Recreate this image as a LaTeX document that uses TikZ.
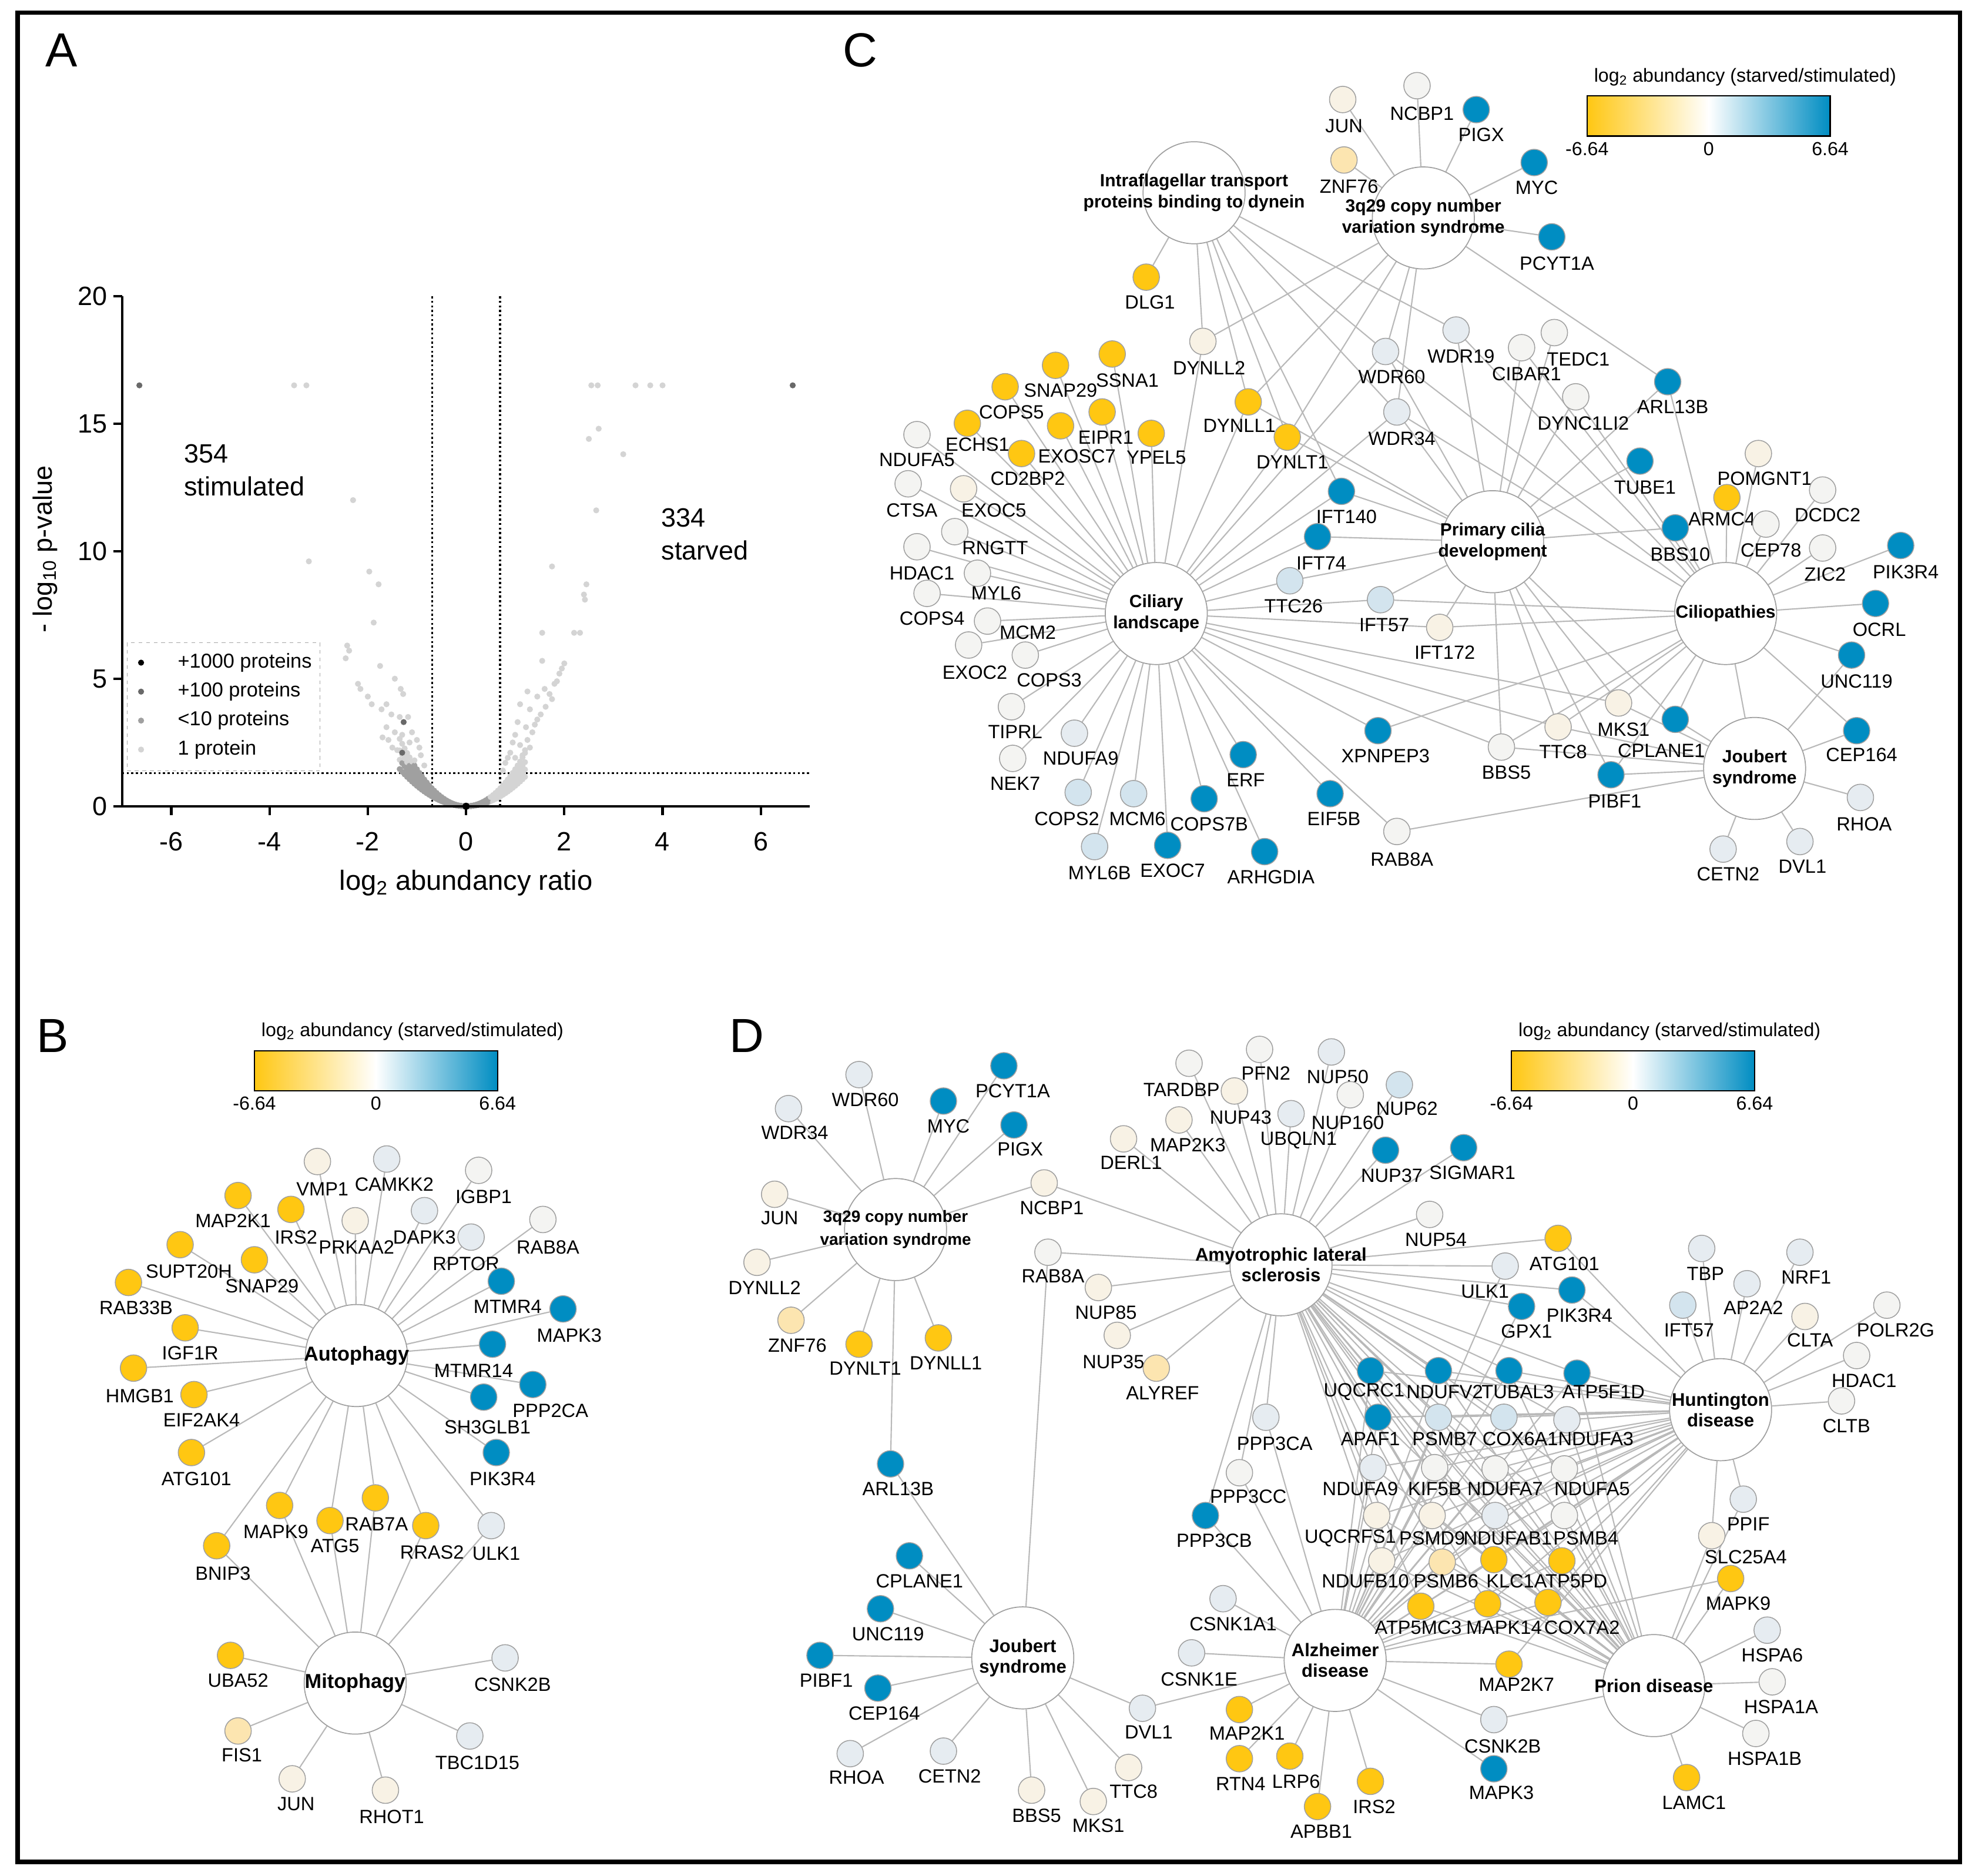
\documentclass[tikz,border=0pt]{standalone}
\usepackage{fontspec}
\setmainfont{Liberation Sans}
\usepackage{tikz}
\usetikzlibrary{calc}

\definecolor{cgold}{RGB}{255,199,18}
\definecolor{cblue}{RGB}{0,141,194}
\definecolor{cpale}{RGB}{252,229,176}
\definecolor{ccream}{RGB}{248,242,229}
\definecolor{cwhite}{RGB}{244,244,242}
\definecolor{cgrey}{RGB}{230,236,241}
\definecolor{clblue}{RGB}{211,228,238}
\definecolor{cedge}{RGB}{185,185,185}
\definecolor{cout}{RGB}{160,160,160}
\definecolor{ptlight}{RGB}{212,212,212}
\definecolor{ptmid}{RGB}{160,160,160}
\definecolor{ptdark}{RGB}{105,105,105}

\pgfdeclarelayer{bg}
\pgfsetlayers{bg,main}

\tikzset{
  gene/.style={circle, draw=cout, line width=0.7pt, minimum size=21pt, inner sep=0pt},
  glab/.style={font=\fontsize{15.2}{17}\selectfont, inner sep=0pt},
  hub/.style={circle, draw=cout, line width=0.8pt, fill=white, minimum size=81pt, inner sep=0pt},
  hubb/.style={font=\fontsize{16}{18}\selectfont\bfseries, align=center, inner sep=0pt},
  hubc/.style={font=\fontsize{14}{17}\selectfont\bfseries, align=center, inner sep=0pt},
  hubd/.style={font=\fontsize{14.5}{16.5}\selectfont\bfseries, align=center, inner sep=0pt},
  hubq/.style={font=\fontsize{13}{18}\selectfont\bfseries, align=center, inner sep=0pt},
  edge/.style={draw=cedge, line width=1pt},
  letter/.style={font=\fontsize{38}{40}\selectfont, inner sep=0pt},
  tick/.style={font=\fontsize{21}{24}\selectfont, inner sep=0pt},
  cbtitle/.style={font=\fontsize{15}{17}\selectfont, inner sep=0pt},
  cbtick/.style={font=\fontsize{15}{17}\selectfont, inner sep=0pt},
  axis/.style={line width=2pt, black},
  thresh/.style={dotted, line width=1.6pt},
}

% gene node: name, x, y, fill, label x, label y, text
\newcommand{\gnode}[7]{%
  \node[gene, fill=#4] (#1) at (#2,#3) {};
  \node[glab] (#1-t) at (#5,#6) {#7};}
% hub node: text style, name, x, y, text
\newcommand{\hubnode}[5]{%
  \node[hub] (#2) at (#3,#4) {};
  \node[#1] (#2-t) at (#3,#4) {#5};}
% colour bar: prefix, left x, top y
\newcommand{\colbar}[3]{%
  \shade[left color=cgold, right color=white] (#2,#3) rectangle ++(96.5,32);
  \shade[left color=white, right color=cblue] (#2+96.5,#3) rectangle ++(96.5,32);
  \draw[line width=1.1pt] (#2,#3) rectangle ++(193,32);
  \node[cbtitle] (#1-title) at (#2+125.5,#3-15) {log\textsubscript{2} abundancy (starved/stimulated)};
  \node[cbtick] (#1-lo) at (#2,#3+42) {-6.64};
  \node[cbtick] (#1-mid) at (#2+96.5,#3+42) {0};
  \node[cbtick] (#1-hi) at (#2+193,#3+42) {6.64};}

\begin{document}
\begin{tikzpicture}[x=1pt, y=-1pt]
\useasboundingbox (0,0) rectangle (1568,1489);
\draw[line width=3.5pt] (14,10) rectangle (1556,1478);

% letters
\node[letter] (la) at (49,40) {A};
\node[letter] (lb) at (42,822) {B};
\node[letter] (lc) at (683,40) {C};
\node[letter] (ld) at (593,822) {D};

% ---------------- A: volcano plot
\begin{scope}[shift={(370,640)}, x=39pt, y=20.25pt]
% thresholds
\draw[thresh] (-0.69,0) -- (-0.69,20);
\draw[thresh] (0.69,0) -- (0.69,20);
\draw[thresh] (-7,1.3) -- (7,1.3);
% cloud
\foreach \a in {0.8,1.0,1.2,1.45}{
  \foreach \x in {-1.35,-1.3,...,1.22}{
    \pgfmathsetmacro\yy{\a*\x*\x}
    \pgfmathtruncatemacro\low{and(\x<0.5,\yy<1.7) ? 1 : 0}
    \ifnum\low=1 \fill[ptmid] (\x,\yy) circle (2.4pt);
    \else \fill[ptlight] (\x,\yy) circle (2.4pt); \fi
  }
}
\foreach \x/\y in {-3.5/16.5,-3.25/16.5,2.55/16.5,2.68/16.5,3.45/16.5,3.75/16.5,4.0/16.5,
  -2.3/12,-3.2/9.6,-1.97/9.2,-1.78/8.7,-1.88/7.2,-2.42/6.3,-2.38/6.1,-2.45/5.8,-1.75/5.5,
  -2.2/4.8,-2.15/4.6,-1.45/5.0,-1.33/4.6,-1.28/4.4,-2.0/4.3,-1.92/4.0,-1.62/4.0,-1.72/3.8,
  -1.52/3.6,-1.35/3.5,-1.18/3.5,-1.62/3.1,-1.45/2.9,-1.3/2.8,-1.1/2.9,-1.0/2.6,-1.58/2.6,
  -1.5/2.3,-1.4/2.2,-1.2/2.0,-0.92/2.0,-1.05/1.8,-0.85/1.6,-1.7/2.7,-1.15/2.5,-0.95/2.3,
  2.5/14.4,2.7/14.8,3.2/13.8,2.65/11.6,1.75/9.4,2.45/8.7,2.4/8.3,2.42/8.1,2.2/6.8,2.32/6.8,
  1.55/6.8,1.55/5.7,2.0/5.6,1.95/5.4,1.9/5.2,1.8/4.8,1.85/4.9,1.6/4.6,1.7/4.4,1.75/4.2,
  1.25/4.5,1.45/4.3,1.1/4.0,1.3/3.8,1.52/3.6,1.4/3.2,1.22/3.1,1.0/2.8,1.35/2.9,1.25/2.6,
  1.1/2.4,0.9/2.1,1.2/2.2,1.0/1.9,0.8/1.7,0.75/1.4,1.62/3.9,1.45/3.4,1.05/3.3,0.95/2.5,
  1.15/2.0,1.3/2.3,0.85/1.9}
  \fill[ptlight] (\x,\y) circle (2.4pt);
\foreach \x/\y in {-6.65/16.5,6.65/16.5,-1.27/3.3,-1.3/2.1}
  \fill[ptdark] (\x,\y) circle (2.4pt);
\fill[black] (0,0) circle (2.8pt);
% axes
\draw[axis] (-7,20) -- (-7,0) -- (7,0);
\foreach \t in {0,5,...,20}{
  \draw[axis] (-7,\t) -- ++(-0.18,0);
  \node[tick, anchor=east] (ya\t) at (-7.3,\t) {\t};
}
\foreach \t in {-6,-4,...,6}{
  \draw[axis] (\t,0) -- ++(0,-0.35);
  \node[tick] (xa\t) at (\t,-1.38) {\t};
}
\end{scope}
\node[tick, rotate=90] (ylab) at (36,436) {- log\textsubscript{10} p-value};
\node[tick, font=\fontsize{22}{24}\selectfont] (xlab) at (370,701) {log\textsubscript{2} abundancy ratio};
\node[tick, anchor=west] (n354) at (146,360) {354};
\node[tick, anchor=west] (stim) at (146,386) {stimulated};
\node[tick, anchor=west] (n334) at (525,411) {334};
\node[tick, anchor=west] (starv) at (525,437) {starved};
% legend
\draw[dashed, draw=gray!70, line width=0.6pt] (101,510) rectangle (254,612);
\foreach \c/\t/\y [count=\i] in {black/+1000 proteins/526, ptdark/+100 proteins/549,
    ptmid/<10 proteins/572, ptlight/1 protein/595}{
  \fill[\c] (112,\y) circle (2.4pt);
  \node[font=\fontsize{16}{18}\selectfont, anchor=west, inner sep=0pt] (leg\i) at (141,\y) {\t};
}

% ---------------- C: ciliary network
\colbar{cbc}{1260}{76}
\hubnode{hubc}{c-if}{948}{153}{Intraflagellar transport\\proteins binding to dynein}
\hubnode{hubc}{c-3q}{1130}{173}{3q29 copy number\\variation syndrome}
\hubnode{hubc}{c-cil}{918}{487}{Ciliary\\landscape}
\hubnode{hubc}{c-pcd}{1185}{430}{Primary cilia\\development}
\hubnode{hubc}{c-cpt}{1370}{487}{Ciliopathies}
\hubnode{hubc}{c-jbt}{1393}{610}{Joubert\\syndrome}
\gnode{c-jun}{1066}{79}{ccream}{1067}{100}{JUN}
\gnode{c-ncbp1}{1125}{68}{cwhite}{1129}{90}{NCBP1}
\gnode{c-pigx}{1172}{87}{cblue}{1176}{107}{PIGX}
\gnode{c-znf76}{1067}{127}{cpale}{1071}{148}{ZNF76}
\gnode{c-myc}{1218}{129}{cblue}{1220}{149}{MYC}
\gnode{c-pcyt1a}{1232}{188}{cblue}{1236}{209}{PCYT1A}
\gnode{c-dlg1}{910}{220}{cgold}{913}{240}{DLG1}
\gnode{c-dynll2}{955}{271}{ccream}{960}{292}{DYNLL2}
\gnode{c-wdr60}{1100}{279}{cgrey}{1105}{299}{WDR60}
\gnode{c-wdr19}{1156}{262}{cgrey}{1160}{283}{WDR19}
\gnode{c-cibar1}{1208}{276}{cwhite}{1212}{297}{CIBAR1}
\gnode{c-tedc1}{1234}{264}{cwhite}{1253}{285}{TEDC1}
\gnode{c-dync1li2}{1251}{315}{cwhite}{1257}{336}{DYNC1LI2}
\gnode{c-arl13b}{1324}{303}{cblue}{1328}{323}{ARL13B}
\gnode{c-wdr34}{1109}{327}{cgrey}{1113}{348}{WDR34}
\gnode{c-dynll1}{991}{319}{cgold}{984}{338}{DYNLL1}
\gnode{c-dynlt1}{1022}{347}{cgold}{1026}{367}{DYNLT1}
\gnode{c-ssna1}{883}{281}{cgold}{895}{302}{SSNA1}
\gnode{c-snap29}{838}{290}{cgold}{842}{310}{SNAP29}
\gnode{c-cops5}{798}{307}{cgold}{803}{327}{COPS5}
\gnode{c-eipr1}{875}{327}{cgold}{878}{347}{EIPR1}
\gnode{c-echs1}{768}{336}{cgold}{776}{353}{ECHS1}
\gnode{c-exosc7}{842}{338}{cgold}{855}{362}{EXOSC7}
\gnode{c-ypel5}{914}{344}{cgold}{918}{363}{YPEL5}
\gnode{c-cd2bp2}{811}{360}{cgold}{816}{380}{CD2BP2}
\gnode{c-ndufa5}{728}{345}{cwhite}{728}{365}{NDUFA5}
\gnode{c-ctsa}{721}{384}{cwhite}{724}{405}{CTSA}
\gnode{c-exoc5}{765}{388}{ccream}{789}{405}{EXOC5}
\gnode{c-rngtt}{758}{422}{cwhite}{790}{435}{RNGTT}
\gnode{c-hdac1}{728}{434}{cwhite}{732}{455}{HDAC1}
\gnode{c-myl6}{776}{455}{cwhite}{791}{471}{MYL6}
\gnode{c-cops4}{736}{471}{cwhite}{740}{491}{COPS4}
\gnode{c-mcm2}{784}{493}{cwhite}{816}{502}{MCM2}
\gnode{c-exoc2}{769}{512}{cwhite}{774}{534}{EXOC2}
\gnode{c-cops3}{814}{520}{cwhite}{833}{540}{COPS3}
\gnode{c-tiprl}{803}{561}{cwhite}{806}{581}{TIPRL}
\gnode{c-ndufa9}{853}{582}{cgrey}{858}{602}{NDUFA9}
\gnode{c-nek7}{804}{602}{cwhite}{806}{622}{NEK7}
\gnode{c-cops2}{856}{629}{clblue}{847}{650}{COPS2}
\gnode{c-mcm6}{900}{630}{clblue}{903}{650}{MCM6}
\gnode{c-myl6b}{869}{672}{clblue}{873}{693}{MYL6B}
\gnode{c-exoc7}{927}{671}{cblue}{931}{691}{EXOC7}
\gnode{c-cops7b}{956}{634}{cblue}{960}{654}{COPS7B}
\gnode{c-erf}{987}{599}{cblue}{989}{619}{ERF}
\gnode{c-arhgdia}{1004}{676}{cblue}{1009}{696}{ARHGDIA}
\gnode{c-eif5b}{1056}{630}{cblue}{1059}{650}{EIF5B}
\gnode{c-rab8a}{1109}{660}{cwhite}{1113}{682}{RAB8A}
\gnode{c-xpnpep3}{1094}{580}{cblue}{1100}{600}{XPNPEP3}
\gnode{c-ift140}{1065}{390}{cblue}{1069}{410}{IFT140}
\gnode{c-ift74}{1046}{426}{cblue}{1049}{447}{IFT74}
\gnode{c-ttc26}{1024}{461}{clblue}{1027}{481}{TTC26}
\gnode{c-ift57}{1096}{476}{clblue}{1099}{496}{IFT57}
\gnode{c-ift172}{1143}{498}{ccream}{1147}{518}{IFT172}
\gnode{c-tube1}{1302}{366}{cblue}{1306}{387}{TUBE1}
\gnode{c-pomgnt1}{1396}{360}{ccream}{1401}{380}{POMGNT1}
\gnode{c-armc4}{1371}{395}{cgold}{1367}{412}{ARMC4}
\gnode{c-dcdc2}{1447}{389}{cwhite}{1451}{409}{DCDC2}
\gnode{c-bbs10}{1330}{419}{cblue}{1334}{440}{BBS10}
\gnode{c-cep78}{1402}{416}{cwhite}{1406}{437}{CEP78}
\gnode{c-zic2}{1447}{435}{cwhite}{1449}{456}{ZIC2}
\gnode{c-pik3r4}{1509}{433}{cblue}{1513}{454}{PIK3R4}
\gnode{c-ocrl}{1489}{479}{cblue}{1492}{500}{OCRL}
\gnode{c-unc119}{1470}{520}{cblue}{1474}{541}{UNC119}
\gnode{c-cep164}{1474}{580}{cblue}{1478}{599}{CEP164}
\gnode{c-rhoa}{1477}{633}{cgrey}{1480}{654}{RHOA}
\gnode{c-dvl1}{1429}{668}{cgrey}{1431}{688}{DVL1}
\gnode{c-cetn2}{1368}{674}{cgrey}{1372}{694}{CETN2}
\gnode{c-mks1}{1285}{558}{ccream}{1289}{579}{MKS1}
\gnode{c-cplane1}{1330}{571}{cblue}{1319}{596}{CPLANE1}
\gnode{c-ttc8}{1237}{577}{ccream}{1241}{597}{TTC8}
\gnode{c-bbs5}{1192}{593}{cwhite}{1196}{613}{BBS5}
\gnode{c-pibf1}{1279}{615}{cblue}{1282}{636}{PIBF1}

% ---------------- B: autophagy network
\colbar{cbb}{202}{834}
\hubnode{hubb}{b-aut}{283}{1076}{Autophagy}
\hubnode{hubb}{b-mit}{282}{1336}{Mitophagy}
\gnode{b-vmp1}{252}{922}{ccream}{256}{944}{VMP1}
\gnode{b-camkk2}{307}{920}{cgrey}{313}{940}{CAMKK2}
\gnode{b-igbp1}{380}{929}{cwhite}{384}{950}{IGBP1}
\gnode{b-map2k1}{189}{949}{cgold}{185}{969}{MAP2K1}
\gnode{b-irs2}{231}{960}{cgold}{235}{982}{IRS2}
\gnode{b-prkaa2}{282}{969}{ccream}{283}{990}{PRKAA2}
\gnode{b-dapk3}{337}{961}{cgrey}{337}{982}{DAPK3}
\gnode{b-rptor}{374}{982}{cgrey}{370}{1003}{RPTOR}
\gnode{b-rab8a}{431}{968}{cwhite}{435}{990}{RAB8A}
\gnode{b-supt20h}{143}{988}{cgold}{150}{1009}{SUPT20H}
\gnode{b-snap29}{202}{1000}{cgold}{208}{1021}{SNAP29}
\gnode{b-rab33b}{102}{1018}{cgold}{108}{1038}{RAB33B}
\gnode{b-mtmr4}{398}{1017}{cblue}{403}{1037}{MTMR4}
\gnode{b-mapk3}{447}{1039}{cblue}{452}{1060}{MAPK3}
\gnode{b-igf1r}{147}{1054}{cgold}{151}{1074}{IGF1R}
\gnode{b-mtmr14}{391}{1067}{cblue}{376}{1088}{MTMR14}
\gnode{b-hmgb1}{106}{1086}{cgold}{111}{1108}{HMGB1}
\gnode{b-eif2ak4}{154}{1107}{cgold}{160}{1127}{EIF2AK4}
\gnode{b-ppp2ca}{423}{1099}{cblue}{437}{1120}{PPP2CA}
\gnode{b-sh3glb1}{384}{1109}{cblue}{387}{1133}{SH3GLB1}
\gnode{b-atg101}{152}{1153}{cgold}{156}{1174}{ATG101}
\gnode{b-pik3r4}{394}{1153}{cblue}{399}{1174}{PIK3R4}
\gnode{b-mapk9}{222}{1195}{cgold}{219}{1216}{MAPK9}
\gnode{b-atg5}{262}{1207}{cgold}{266}{1227}{ATG5}
\gnode{b-rab7a}{298}{1189}{cgold}{299}{1210}{RAB7A}
\gnode{b-rras2}{338}{1211}{cgold}{343}{1232}{RRAS2}
\gnode{b-ulk1}{390}{1211}{cgrey}{394}{1233}{ULK1}
\gnode{b-bnip3}{172}{1227}{cgold}{177}{1249}{BNIP3}
\gnode{b-uba52}{183}{1314}{cgold}{189}{1334}{UBA52}
\gnode{b-csnk2b}{401}{1316}{cgrey}{407}{1337}{CSNK2B}
\gnode{b-fis1}{189}{1374}{cpale}{192}{1393}{FIS1}
\gnode{b-tbc1d15}{373}{1378}{cgrey}{379}{1399}{TBC1D15}
\gnode{b-jun}{232}{1412}{ccream}{235}{1432}{JUN}
\gnode{b-rhot1}{306}{1421}{ccream}{311}{1442}{RHOT1}

% ---------------- D: disease network
\colbar{cbd}{1200}{834}
\hubnode{hubq}{d-3q}{711}{976}{3q29 copy number\\variation syndrome}
\hubnode{hubd}{d-als}{1017}{1004}{Amyotrophic lateral\\sclerosis}
\hubnode{hubd}{d-jbt}{812}{1316}{Joubert\\syndrome}
\hubnode{hubd}{d-ad}{1060}{1318}{Alzheimer\\disease}
\hubnode{hubd}{d-hd}{1366}{1119}{Huntington\\disease}
\hubnode{hubd}{d-pri}{1313}{1338}{Prion disease}
\gnode{d-wdr60}{682}{853}{cgrey}{687}{873}{WDR60}
\gnode{d-wdr34}{626}{880}{cgrey}{631}{899}{WDR34}
\gnode{d-myc}{749}{874}{cblue}{753}{894}{MYC}
\gnode{d-pcyt1a}{797}{846}{cblue}{804}{866}{PCYT1A}
\gnode{d-pigx}{805}{893}{cblue}{810}{912}{PIGX}
\gnode{d-jun}{615}{948}{ccream}{619}{967}{JUN}
\gnode{d-ncbp1}{829}{939}{ccream}{835}{959}{NCBP1}
\gnode{d-dynll2}{601}{1002}{ccream}{607}{1022}{DYNLL2}
\gnode{d-rab8a}{832}{994}{cwhite}{836}{1013}{RAB8A}
\gnode{d-nup85}{872}{1022}{ccream}{878}{1042}{NUP85}
\gnode{d-znf76}{628}{1048}{cpale}{633}{1068}{ZNF76}
\gnode{d-dynlt1}{682}{1067}{cgold}{687}{1086}{DYNLT1}
\gnode{d-dynll1}{745}{1062}{cgold}{751}{1082}{DYNLL1}
\gnode{d-nup35}{887}{1060}{ccream}{884}{1081}{NUP35}
\gnode{d-alyref}{918}{1086}{cpale}{923}{1106}{ALYREF}
\gnode{d-arl13b}{707}{1162}{cblue}{713}{1182}{ARL13B}
\gnode{d-cplane1}{722}{1235}{cblue}{730}{1255}{CPLANE1}
\gnode{d-unc119}{699}{1277}{cblue}{705}{1297}{UNC119}
\gnode{d-pibf1}{651}{1314}{cblue}{656}{1334}{PIBF1}
\gnode{d-cep164}{697}{1340}{cblue}{702}{1360}{CEP164}
\gnode{d-rhoa}{675}{1392}{cgrey}{680}{1411}{RHOA}
\gnode{d-cetn2}{749}{1390}{cgrey}{754}{1410}{CETN2}
\gnode{d-bbs5}{819}{1421}{ccream}{823}{1441}{BBS5}
\gnode{d-mks1}{868}{1430}{ccream}{872}{1449}{MKS1}
\gnode{d-ttc8}{896}{1403}{ccream}{900}{1422}{TTC8}
\gnode{d-dvl1}{907}{1356}{cgrey}{912}{1375}{DVL1}
\gnode{d-csnk1a1}{971}{1269}{cgrey}{979}{1289}{CSNK1A1}
\gnode{d-csnk1e}{946}{1312}{cgrey}{952}{1333}{CSNK1E}
\gnode{d-map2k1}{984}{1357}{cgold}{990}{1376}{MAP2K1}
\gnode{d-rtn4}{984}{1396}{cgold}{985}{1416}{RTN4}
\gnode{d-lrp6}{1024}{1394}{cgold}{1029}{1414}{LRP6}
\gnode{d-apbb1}{1046}{1434}{cgold}{1049}{1454}{APBB1}
\gnode{d-irs2}{1088}{1414}{cgold}{1091}{1434}{IRS2}
\gnode{d-tardbp}{944}{844}{cwhite}{938}{865}{TARDBP}
\gnode{d-pfn2}{1000}{833}{cwhite}{1005}{852}{PFN2}
\gnode{d-nup43}{980}{866}{ccream}{985}{887}{NUP43}
\gnode{d-map2k3}{936}{889}{ccream}{943}{909}{MAP2K3}
\gnode{d-derl1}{892}{904}{ccream}{898}{923}{DERL1}
\gnode{d-ubqln1}{1025}{884}{cgrey}{1031}{905}{UBQLN1}
\gnode{d-nup50}{1057}{835}{cgrey}{1062}{855}{NUP50}
\gnode{d-nup62}{1111}{861}{clblue}{1117}{880}{NUP62}
\gnode{d-nup160}{1072}{869}{cwhite}{1070}{891}{NUP160}
\gnode{d-nup37}{1100}{913}{cblue}{1105}{933}{NUP37}
\gnode{d-sigmar1}{1162}{911}{cblue}{1169}{931}{SIGMAR1}
\gnode{d-nup54}{1135}{964}{cwhite}{1140}{984}{NUP54}
\gnode{d-atg101}{1237}{983}{cgold}{1242}{1003}{ATG101}
\gnode{d-ulk1}{1195}{1005}{cgrey}{1179}{1025}{ULK1}
\gnode{d-pik3r4}{1248}{1024}{cblue}{1254}{1044}{PIK3R4}
\gnode{d-gpx1}{1208}{1037}{cblue}{1212}{1057}{GPX1}
\gnode{d-tbp}{1351}{991}{cgrey}{1354}{1011}{TBP}
\gnode{d-nrf1}{1429}{994}{cgrey}{1434}{1014}{NRF1}
\gnode{d-ap2a2}{1387}{1019}{cgrey}{1392}{1038}{AP2A2}
\gnode{d-ift57}{1336}{1036}{clblue}{1341}{1056}{IFT57}
\gnode{d-clta}{1433}{1045}{ccream}{1437}{1064}{CLTA}
\gnode{d-polr2g}{1498}{1036}{cwhite}{1505}{1056}{POLR2G}
\gnode{d-hdac1}{1474}{1076}{cwhite}{1480}{1096}{HDAC1}
\gnode{d-cltb}{1462}{1112}{cwhite}{1466}{1132}{CLTB}
\gnode{d-ppif}{1384}{1190}{cgrey}{1388}{1210}{PPIF}
\gnode{d-slc25a4}{1359}{1219}{ccream}{1386}{1236}{SLC25A4}
\gnode{d-mapk9}{1374}{1253}{cgold}{1380}{1273}{MAPK9}
\gnode{d-hspa6}{1403}{1294}{cgrey}{1407}{1314}{HSPA6}
\gnode{d-hspa1a}{1407}{1335}{cwhite}{1414}{1355}{HSPA1A}
\gnode{d-hspa1b}{1394}{1376}{cwhite}{1401}{1396}{HSPA1B}
\gnode{d-lamc1}{1339}{1411}{cgold}{1345}{1431}{LAMC1}
\gnode{d-map2k7}{1198}{1321}{cgold}{1204}{1337}{MAP2K7}
\gnode{d-csnk2b}{1186}{1365}{cgrey}{1193}{1386}{CSNK2B}
\gnode{d-mapk3}{1186}{1404}{cblue}{1192}{1423}{MAPK3}
\gnode{d-ppp3ca}{1005}{1125}{cgrey}{1012}{1146}{PPP3CA}
\gnode{d-ppp3cc}{984}{1169}{cwhite}{991}{1188}{PPP3CC}
\gnode{d-ppp3cb}{957}{1203}{cblue}{964}{1223}{PPP3CB}
% shared genes
\gnode{d-uqcrc1}{1088}{1088}{cblue}{1083}{1105}{UQCRC1}
\gnode{d-ndufv2}{1142}{1088}{cblue}{1147}{1105}{NDUFV2}
\gnode{d-tubal3}{1198}{1088}{cblue}{1205}{1105}{TUBAL3}
\gnode{d-atp5f1d}{1252}{1090}{cblue}{1273}{1105}{ATP5F1D}
\gnode{d-apaf1}{1094}{1125}{cblue}{1088}{1142}{APAF1}
\gnode{d-psmb7}{1142}{1125}{clblue}{1147}{1142}{PSMB7}
\gnode{d-cox6a1}{1194}{1125}{clblue}{1207}{1142}{COX6A1}
\gnode{d-ndufa3}{1244}{1127}{cgrey}{1267}{1142}{NDUFA3}
\gnode{d-ndufa9}{1090}{1165}{cgrey}{1080}{1182}{NDUFA9}
\gnode{d-kif5b}{1139}{1165}{cwhite}{1139}{1182}{KIF5B}
\gnode{d-ndufa7}{1187}{1166}{cwhite}{1195}{1182}{NDUFA7}
\gnode{d-ndufa5}{1242}{1166}{cwhite}{1264}{1182}{NDUFA5}
\gnode{d-uqcrfs1}{1093}{1203}{ccream}{1072}{1221}{UQCRFS1}
\gnode{d-psmd9}{1137}{1203}{ccream}{1137}{1221}{PSMD9}
\gnode{d-ndufab1}{1187}{1203}{cgrey}{1197}{1221}{NDUFAB1}
\gnode{d-psmb4}{1242}{1203}{cwhite}{1259}{1221}{PSMB4}
\gnode{d-ndufb10}{1097}{1239}{ccream}{1084}{1255}{NDUFB10}
\gnode{d-psmb6}{1145}{1240}{cpale}{1148}{1255}{PSMB6}
\gnode{d-klc1}{1186}{1238}{cgold}{1199}{1255}{KLC1}
\gnode{d-atp5pd}{1240}{1239}{cgold}{1247}{1255}{ATP5PD}
\gnode{d-atp5mc3}{1128}{1275}{cgold}{1126}{1292}{ATP5MC3}
\gnode{d-mapk14}{1181}{1273}{cgold}{1194}{1292}{MAPK14}
\gnode{d-cox7a2}{1229}{1272}{cgold}{1256}{1292}{COX7A2}

% ---------------- edges
\begin{pgfonlayer}{bg}
% C
\foreach \g in {c-dlg1,c-dynll2,c-dynll1,c-dynlt1,c-ift140,c-wdr60,c-wdr34,c-wdr19}
  \draw[edge] (c-if) -- (\g);
\foreach \g in {c-jun,c-ncbp1,c-pigx,c-znf76,c-myc,c-pcyt1a,c-dynll2,c-dynll1,c-dynlt1,
    c-wdr60,c-wdr34,c-arl13b}
  \draw[edge] (c-3q) -- (\g);
\foreach \g in {c-ssna1,c-snap29,c-cops5,c-eipr1,c-echs1,c-exosc7,c-ypel5,c-cd2bp2,
    c-ndufa5,c-ctsa,c-exoc5,c-rngtt,c-hdac1,c-myl6,c-cops4,c-mcm2,c-exoc2,c-cops3,
    c-tiprl,c-ndufa9,c-nek7,c-cops2,c-mcm6,c-myl6b,c-exoc7,c-cops7b,c-erf,c-arhgdia,
    c-eif5b,c-rab8a,c-xpnpep3,c-dynll2,c-dynll1,c-dynlt1,c-ift140,c-ift74,c-ttc26,
    c-ift57,c-ift172,c-mks1,c-ttc8,c-bbs5,c-wdr60,c-wdr34}
  \draw[edge] (c-cil) -- (\g);
\foreach \g in {c-wdr60,c-wdr19,c-cibar1,c-tedc1,c-dync1li2,c-wdr34,c-arl13b,c-tube1,
    c-ift140,c-ift74,c-ttc26,c-ift57,c-ift172,c-bbs10,c-bbs5,c-ttc8,c-mks1,c-cplane1,
    c-pibf1,c-dynlt1,c-dynll1}
  \draw[edge] (c-pcd) -- (\g);
\foreach \g in {c-arl13b,c-pomgnt1,c-armc4,c-dcdc2,c-bbs10,c-cep78,c-zic2,c-pik3r4,
    c-ocrl,c-unc119,c-cep164,c-ift172,c-ift57,c-mks1,c-ttc8,c-cplane1,c-pibf1,
    c-xpnpep3,c-bbs5,c-wdr19,c-wdr34,c-wdr60,c-cibar1,c-dync1li2,c-jbt}
  \draw[edge] (c-cpt) -- (\g);
\foreach \g in {c-cep164,c-unc119,c-rhoa,c-dvl1,c-cetn2,c-mks1,c-cplane1,c-ttc8,
    c-bbs5,c-pibf1,c-rab8a}
  \draw[edge] (c-jbt) -- (\g);
% B
\foreach \g in {b-vmp1,b-camkk2,b-igbp1,b-map2k1,b-irs2,b-prkaa2,b-dapk3,b-rptor,
    b-rab8a,b-supt20h,b-snap29,b-rab33b,b-mtmr4,b-mapk3,b-igf1r,b-mtmr14,b-hmgb1,
    b-eif2ak4,b-ppp2ca,b-sh3glb1,b-atg101,b-pik3r4,b-mapk9,b-atg5,b-rab7a,b-rras2,
    b-ulk1,b-bnip3}
  \draw[edge] (b-aut) -- (\g);
\foreach \g in {b-bnip3,b-mapk9,b-atg5,b-rab7a,b-rras2,b-ulk1,b-uba52,b-csnk2b,
    b-fis1,b-tbc1d15,b-jun,b-rhot1}
  \draw[edge] (b-mit) -- (\g);
% D
\foreach \g in {d-wdr60,d-wdr34,d-myc,d-pcyt1a,d-pigx,d-jun,d-ncbp1,d-dynll2,d-znf76,
    d-dynlt1,d-dynll1,d-arl13b}
  \draw[edge] (d-3q) -- (\g);
\foreach \g in {d-ncbp1,d-rab8a,d-nup85,d-nup35,d-alyref,d-tardbp,d-pfn2,d-nup43,
    d-map2k3,d-derl1,d-ubqln1,d-nup50,d-nup62,d-nup160,d-nup37,d-sigmar1,d-nup54,
    d-atg101,d-ulk1,d-pik3r4,d-gpx1,d-ppp3ca,d-ppp3cb,d-ppp3cc}
  \draw[edge] (d-als) -- (\g);
\foreach \g in {d-arl13b,d-cplane1,d-unc119,d-pibf1,d-cep164,d-rhoa,d-cetn2,d-bbs5,
    d-mks1,d-ttc8,d-dvl1,d-rab8a}
  \draw[edge] (d-jbt) -- (\g);
\foreach \g in {d-dvl1,d-csnk1a1,d-csnk1e,d-map2k1,d-rtn4,d-lrp6,d-apbb1,d-irs2,
    d-map2k7,d-csnk2b,d-mapk3,d-ppp3ca,d-ppp3cb,d-ppp3cc,d-ulk1,d-gpx1,d-mapk9}
  \draw[edge] (d-ad) -- (\g);
\foreach \g in {d-tbp,d-nrf1,d-ap2a2,d-ift57,d-clta,d-polr2g,d-hdac1,d-cltb,d-ppif,
    d-slc25a4,d-atg101,d-pik3r4,d-map2k7}
  \draw[edge] (d-hd) -- (\g);
\foreach \g in {d-hspa6,d-hspa1a,d-hspa1b,d-lamc1,d-mapk9,d-slc25a4,d-ppif,d-csnk2b}
  \draw[edge] (d-pri) -- (\g);
\foreach \h in {d-als,d-ad,d-hd,d-pri}
  \foreach \g in {d-uqcrc1,d-ndufv2,d-tubal3,d-atp5f1d,d-apaf1,d-psmb7,d-cox6a1,
      d-ndufa3,d-ndufa9,d-kif5b,d-ndufa7,d-ndufa5,d-uqcrfs1,d-psmd9,d-ndufab1,
      d-psmb4,d-ndufb10,d-psmb6,d-klc1,d-atp5pd,d-atp5mc3,d-mapk14,d-cox7a2}
    \draw[edge] (\h) -- (\g);
\end{pgfonlayer}
\end{tikzpicture}
\end{document}
